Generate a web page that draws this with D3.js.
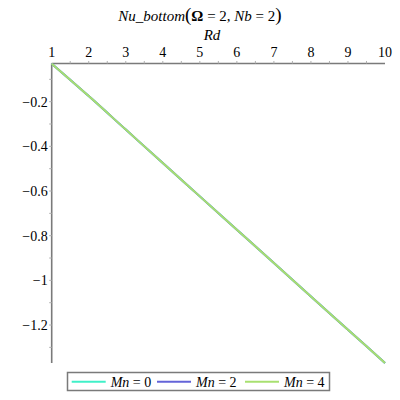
<!DOCTYPE html>
<html><head><meta charset="utf-8">
<script src="https://cdn.jsdelivr.net/npm/d3@7"></script>
<style>body{margin:0;background:#fff}svg{display:block}text{font-family:"Liberation Serif","Times New Roman",serif;fill:#000}</style>
</head><body><svg id="c" width="400" height="400"></svg>
<script>
const rd = [1, 2, 3, 4, 5, 6, 7, 8, 9, 10];
const mn0 = [-0.030, -0.175, -0.325, -0.475, -0.624, -0.773, -0.922, -1.072, -1.221, -1.370];
const mn2 = [-0.030, -0.175, -0.325, -0.475, -0.624, -0.773, -0.922, -1.072, -1.221, -1.370];
const mn4 = [-0.030, -0.175, -0.325, -0.475, -0.624, -0.773, -0.922, -1.072, -1.221, -1.370];
const seriesNames = ["0", "2", "4"];
const seriesColors = ["#40F0C8", "#6464D8", "#A8E070"];
const xTicks = [1,2,3,4,5,6,7,8,9,10];
const yTicks = [-0.2,-0.4,-0.6,-0.8,-1,-1.2];
const yTickLabels = ["−0.2","−0.4","−0.6","−0.8","−1","−1.2"];

const svg = d3.select("#c");
const x = d3.scaleLinear().domain([1,10]).range([51.7,385]);
const y = d3.scaleLinear().domain([0,-1.37]).range([57,363]);
const yTop = -0.029;
const axisColor = "#7a7a7a";

svg.append("line").attr("x1",x(1)).attr("x2",x(10)).attr("y1",y(yTop)).attr("y2",y(yTop))
  .attr("stroke",axisColor).attr("stroke-width",1.6);
svg.append("line").attr("x1",x(1)).attr("x2",x(1)).attr("y1",y(yTop)).attr("y2",y(-1.37))
  .attr("stroke",axisColor).attr("stroke-width",1.6);

const xMinor = d3.range(1.5,10,0.5);
svg.selectAll(".xt").data(xMinor).enter().append("line")
  .attr("x1",d=>x(d)).attr("x2",d=>x(d)).attr("y1",y(yTop)-2.5).attr("y2",y(yTop))
  .attr("stroke","#b0b0b0").attr("stroke-width",1);
svg.selectAll(".xl").data(xTicks).enter().append("text")
  .attr("x",d=>x(d)).attr("y",y(yTop)-6).attr("text-anchor","middle")
  .attr("font-size",14).text(d=>d);

const yMinor = d3.range(1,14).map(i=>-i/10);
svg.selectAll(".yt").data(yMinor).enter().append("line")
  .attr("x1",x(1)-2.5).attr("x2",x(1)).attr("y1",d=>y(d)).attr("y2",d=>y(d))
  .attr("stroke","#b0b0b0").attr("stroke-width",1);
svg.selectAll(".yl").data(yTicks).enter().append("text")
  .attr("x",x(1)-4).attr("y",d=>y(d)+5).attr("text-anchor","end")
  .attr("font-size",14).text((d,i)=>yTickLabels[i]);

const t = svg.append("text").attr("x",200).attr("y",21).attr("text-anchor","middle").attr("font-size",15);
t.append("tspan").attr("font-style","italic").text("Nu_bottom");
t.append("tspan").attr("font-size",19).text("(");
t.append("tspan").attr("font-weight","bold").text("Ω");
t.append("tspan").text(" = 2, ");
t.append("tspan").attr("font-style","italic").text("Nb");
t.append("tspan").text(" = 2");
t.append("tspan").attr("font-size",19).text(")");
svg.append("text").attr("x",212).attr("y",40).attr("text-anchor","middle")
  .attr("font-size",15).attr("font-style","italic").text("Rd");

const data = [mn0, mn2, mn4];
const line = d3.line().x((d,i)=>x(rd[i])).y(d=>y(d)).curve(d3.curveMonotoneX);
data.forEach((s,k)=>{
  svg.append("path").datum(s).attr("d",line).attr("fill","none")
    .attr("stroke",seriesColors[k]).attr("stroke-width",2);
});

svg.append("rect").attr("x",67.5).attr("y",372.5).attr("width",262).attr("height",18)
  .attr("fill","#fff").attr("stroke",axisColor).attr("stroke-width",1.5);
const lx = [71.7, 157, 245];
seriesNames.forEach((n,k)=>{
  svg.append("line").attr("x1",lx[k]).attr("x2",lx[k]+34).attr("y1",381.7).attr("y2",381.7)
    .attr("stroke",seriesColors[k]).attr("stroke-width",2);
  const tt = svg.append("text").attr("x",lx[k]+39).attr("y",386.5).attr("font-size",14);
  tt.append("tspan").attr("font-style","italic").text("Mn");
  tt.append("tspan").text(" = " + n);
});
</script></body></html>
